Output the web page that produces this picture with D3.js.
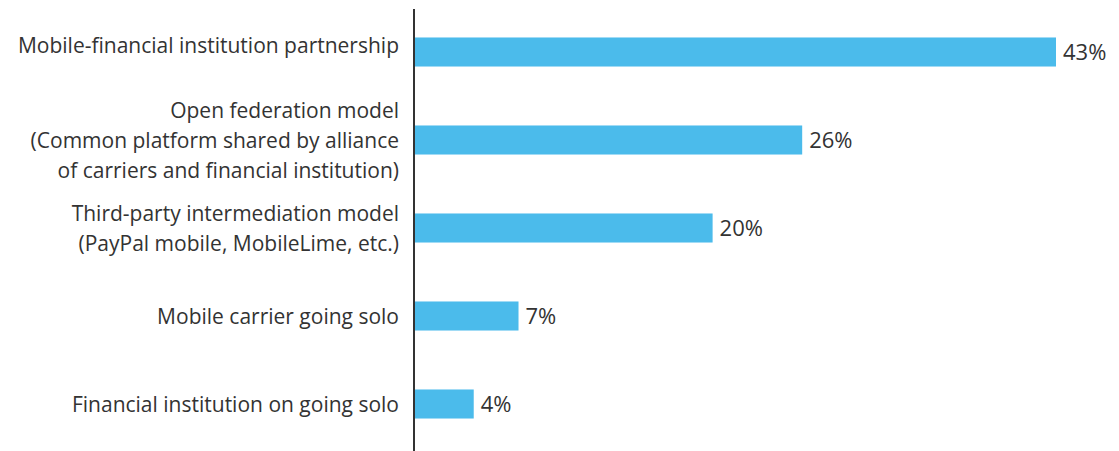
<!DOCTYPE html>
<html>
<head>
<meta charset="utf-8">
<script src="https://cdn.jsdelivr.net/npm/d3@7"></script>
<style>
  body { margin: 0; background: #fff; }
  text { font-family: "Open Sans", sans-serif; }
</style>
</head>
<body>
<div id="chart"></div>
<script>
// données
const categories = [
  "Mobile-financial institution partnership",
  "Open federation model",
  "Third-party intermediation model",
  "Mobile carrier going solo",
  "Financial institution on going solo"
];
const labelLines = [
  ["Mobile-financial institution partnership"],
  ["Open federation model", "(Common platform shared by alliance", "of carriers and financial institution)"],
  ["Third-party intermediation model", "(PayPal mobile, MobileLime, etc.)"],
  ["Mobile carrier going solo"],
  ["Financial institution on going solo"]
];
const values = [43, 26, 20, 7, 4];

// dimensions
const width = 1119;
const height = 451;
const axisX = 414;

const svg = d3.select("#chart").append("svg")
  .attr("width", width)
  .attr("height", height);

const x = d3.scaleLinear()
  .domain([0, 43])
  .range([axisX, 1056]);

const y = d3.scaleBand()
  .domain(categories)
  .range([8, 448])
  .paddingInner(0.67)
  .paddingOuter(0.335);

// barres
svg.selectAll(".bar")
  .data(categories)
  .join("rect")
  .attr("class", "bar")
  .attr("x", x(0))
  .attr("y", d => y(d))
  .attr("width", (d, i) => x(values[i]) - x(0))
  .attr("height", y.bandwidth())
  .attr("fill", "#4bbbeb");

// valeurs
svg.selectAll(".value")
  .data(categories)
  .join("text")
  .attr("class", "value")
  .attr("x", (d, i) => x(values[i]) + 7)
  .attr("y", d => y(d) + y.bandwidth() / 2)
  .attr("dy", "0.36em")
  .attr("font-size", 22)
  .attr("fill", "#333")
  .text((d, i) => values[i] + "%");

// étiquettes (centrées sur la barre, la première un peu plus haut)
const lineH = 30;
svg.selectAll(".label")
  .data(categories)
  .join("text")
  .attr("class", "label")
  .attr("text-anchor", "end")
  .attr("font-size", 21)
  .attr("fill", "#333")
  .each(function (d, i) {
    const lines = labelLines[i];
    const cy = y(d) + y.bandwidth() / 2 - (i === 0 ? 7 : 0);
    const y0 = cy - (lines.length - 1) * lineH / 2;
    d3.select(this).selectAll("tspan")
      .data(lines)
      .join("tspan")
      .attr("x", 399)
      .attr("y", (l, j) => y0 + j * lineH)
      .attr("dy", "0.36em")
      .text(l => l);
  });

// axe vertical
svg.append("line")
  .attr("x1", axisX)
  .attr("x2", axisX)
  .attr("y1", 9)
  .attr("y2", height)
  .attr("stroke", "#333")
  .attr("stroke-width", 2);
</script>
</body>
</html>
